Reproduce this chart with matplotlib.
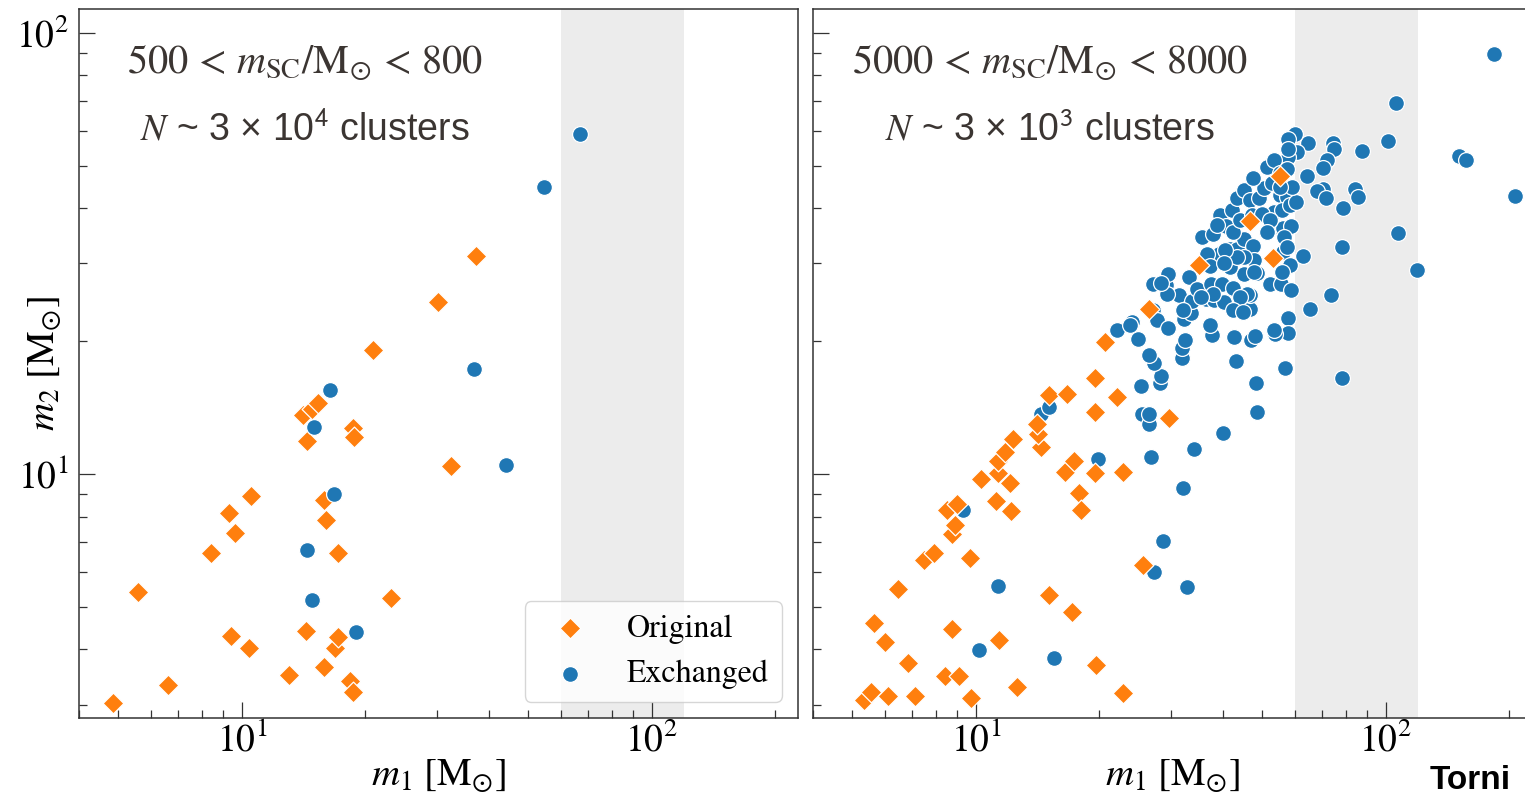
import numpy as np
import matplotlib
matplotlib.use('Agg')
import matplotlib.pyplot as plt
from matplotlib.ticker import NullFormatter, LogLocator

plt.rcParams['font.family'] = ['STIXGeneral', 'DejaVu Serif']
plt.rcParams['mathtext.fontset'] = 'stix'

# left panel : 500 < m_sc < 800
left_orig_m1 = [4.85, 5.58, 6.61, 8.42, 9.31, 9.63, 10.5, 9.42, 10.4, 13.0, 14.3, 14.4, 14.1, 14.8, 15.3,
                15.9, 15.9, 16.0, 17.2, 16.9, 17.2, 18.4, 18.7, 18.7, 18.8, 20.9, 23.1, 30.1, 32.4, 37.3]
left_orig_m2 = [3.02, 5.39, 3.32, 6.60, 8.14, 7.33, 8.90, 4.29, 4.03, 3.50, 4.40, 11.9, 13.6, 14.0, 14.5,
                3.65, 8.72, 7.88, 6.60, 4.03, 4.26, 3.40, 3.20, 12.7, 12.1, 19.1, 5.23, 24.5, 10.4, 31.1]
left_exch_m1 = [16.4, 15.0, 16.8, 14.4, 14.8, 19.0, 36.9, 44.2, 54.7, 66.9]
left_exch_m2 = [15.5, 12.8, 9.0, 6.71, 5.18, 4.39, 17.3, 10.5, 44.6, 59.0]

# right panel : 5000 < m_sc < 8000
right_orig_m1 = [5.35, 5.56, 6.09, 7.12, 8.39, 9.11, 9.72, 12.6, 19.6, 22.8, 5.63, 6.01, 6.84, 8.77, 11.4,
                 15.1, 17.2, 6.45, 7.46, 7.90, 9.67, 8.77, 8.88, 8.49, 9.00, 11.2, 12.2, 10.3, 11.3, 12.1,
                 11.3, 11.8, 12.3, 16.5, 17.9, 18.1, 17.4, 19.5, 22.9, 25.6, 14.4, 14.2, 14.1, 15.1, 16.7,
                 19.5, 22.1, 29.6, 19.5, 20.7, 26.4, 35.1, 46.7, 53.1, 55.1]
right_orig_m2 = [3.07, 3.21, 3.14, 3.14, 3.49, 3.48, 3.11, 3.29, 3.69, 3.18, 4.58, 4.16, 3.73, 4.46, 4.20,
                 5.31, 4.85, 5.47, 6.38, 6.62, 6.43, 7.30, 7.65, 8.28, 8.54, 8.69, 8.23, 9.71, 10.05, 9.54,
                 10.7, 11.2, 12.0, 10.1, 9.03, 8.28, 10.7, 10.05, 10.1, 6.21, 11.5, 12.3, 13.0, 15.1, 15.2,
                 13.8, 14.9, 13.4, 16.5, 19.9, 23.6, 29.8, 37.4, 30.8, 47.3]
right_exch_m1 = [10.2, 11.3, 15.5, 19.9, 9.28, 27.2, 28.6, 32.8, 32.0, 26.8, 34.1, 40.1, 48.5, 25.5, 26.5,
                 25.3, 28.1, 48.2, 14.4, 15.1,
                 106, 101, 87.7, 74.4, 74.7, 71.9, 70.3, 64.3, 64.5, 59.9, 57.6, 60.8, 57.6, 151, 157,
                 207, 84.3, 85.4, 78.5, 70.3, 68.0, 71.6, 107, 78.0, 62.8, 119, 73.6, 65.2, 57.9, 57.9,
                 53.8, 56.7, 78.1, 43.1, 46.9, 48.1, 42.7, 37.7, 37.3, 31.8, 31.8, 32.4, 26.4, 28.3, 27.2,
                 26.4, 24.8, 22.1, 24.0, 27.1, 27.7, 29.4, 27.0, 29.1, 29.5, 31.3, 32.2, 33.5, 33.7, 33.1,
                 34.6, 36.4, 38.2, 40.2, 37.4, 39.8, 42.5, 44.3, 46.7, 46.7, 45.2, 48.5, 52.3, 55.6, 58.8,
                 41.7, 39.1, 36.6, 37.3, 41.6, 43.4, 45.0, 47.4, 47.6, 56.2, 58.3, 55.8, 35.7, 38.0, 39.5,
                 40.8, 42.5, 42.2, 43.4, 45.0, 46.7, 49.0, 50.4, 47.4, 51.3, 53.3, 55.3, 57.4, 53.3, 55.8,
                 58.5, 60.5, 53.5, 56.2, 58.7, 56.6, 57.4, 44.2, 47.2, 49.9, 52.3, 51.3, 38.7, 55.3, 57.4,
                 57.6, 52.8, 59.1, 55.3, 45.0, 43.4, 40.6, 40.4, 47.8, 45.9, 44.2, 38.0, 35.5, 42.5, 44.8,
                 53.3, 32.1, 29.2, 23.8, 28.3, 184]
right_exch_m2 = [3.99, 5.57, 3.82, 10.8, 8.28, 6.00, 7.04, 5.55, 9.27, 10.9, 11.4, 12.4, 13.8, 13.7, 13.0,
                 15.8, 16.1, 16.1, 13.7, 14.2,
                 69.3, 56.7, 53.9, 56.2, 54.6, 51.4, 49.4, 47.3, 56.2, 58.8, 57.3, 53.6, 52.3, 52.5, 51.6,
                 42.6, 44.3, 42.4, 40.1, 44.3, 43.8, 42.2, 35.2, 32.6, 31.2, 29.0, 25.5, 23.6, 22.6, 20.9,
                 20.7, 17.4, 16.5, 18.0, 20.1, 20.5, 20.4, 20.6, 21.8, 18.3, 19.3, 20.1, 13.7, 16.7, 17.8,
                 18.6, 20.2, 21.2, 22.1, 23.5, 22.3, 21.4, 26.9, 26.8, 28.4, 25.4, 22.5, 23.2, 24.7, 27.9,
                 26.2, 24.9, 24.8, 24.5, 27.0, 27.0, 26.4, 23.6, 23.6, 25.5, 28.4, 28.6, 27.0, 27.0, 26.1,
                 29.4, 31.5, 31.5, 29.6, 32.3, 32.4, 34.0, 32.8, 30.6, 31.8, 29.8, 28.7, 34.4, 35.0, 38.6,
                 36.5, 35.3, 39.6, 42.1, 43.9, 41.7, 42.1, 44.5, 46.8, 49.5, 51.6, 42.8, 42.4, 39.2, 39.6,
                 40.6, 41.3, 36.4, 36.1, 36.4, 34.4, 32.7, 37.6, 38.6, 38.9, 37.6, 35.3, 36.6, 48.1, 49.2,
                 54.6, 45.6, 44.7, 44.7, 31.0, 31.0, 32.2, 30.0, 28.7, 25.6, 25.2, 25.6, 25.2, 23.5, 23.3,
                 21.2, 23.5, 25.6, 21.7, 27.1, 89.6]

panel_titles = [r'$500\,<\,m_{\rm SC}/{\rm M}_{\odot}\,<\,800$', r'$5000\,<\,m_{\rm SC}/{\rm M}_{\odot}\,<\,8000$']
panel_counts = [r'$N$ ~ 3 × 10$^{\mathsf{4}}$ clusters', r'$N$ ~ 3 × 10$^{\mathsf{3}}$ clusters']
band_lo, band_hi = 60, 120

orange = '#ff7f0e'
blue = '#1f77b4'
txt_col = '#3b3532'


def style_axis(ax):
    ax.set_xscale('log')
    ax.set_yscale('log')
    ax.set_xlim(4, 227)
    ax.set_ylim(2.8, 113)
    ax.xaxis.set_minor_locator(LogLocator(base=10, subs=np.arange(2, 10)))
    ax.yaxis.set_minor_locator(LogLocator(base=10, subs=np.arange(2, 10)))
    ax.xaxis.set_minor_formatter(NullFormatter())
    ax.yaxis.set_minor_formatter(NullFormatter())
    ax.tick_params(which='both', direction='in', top=False, right=False, color='#333333', width=0.9)
    ax.tick_params(which='major', length=11.5, labelsize=27)
    ax.tick_params(which='minor', length=5.5)
    ax.tick_params(axis='y', pad=7)
    for sp in ax.spines.values():
        sp.set_color('#333333')
        sp.set_linewidth(1.1)
    ax.axvspan(band_lo, band_hi, color='#ececec', zorder=0, lw=0)
    ax.set_xlabel(r'$m_1\ [{\rm M}_{\odot}]$', fontsize=28)
    ax.xaxis.set_label_coords(0.5, -0.055)


fig = plt.figure(figsize=(15.25, 7.98), dpi=100)
ax0 = fig.add_axes([0.0516, 0.1006, 0.4715, 0.8877])
ax1 = fig.add_axes([0.5329, 0.1006, 0.4715, 0.8877], sharey=ax0)

kw = dict(edgecolors='white', linewidths=0.9)

# left
style_axis(ax0)
h_o = ax0.scatter(left_orig_m1, left_orig_m2, marker='D', s=112, c=orange, zorder=3, label='Original', **kw)
h_e = ax0.scatter(left_exch_m1, left_exch_m2, marker='o', s=130, c=blue, zorder=3, label='Exchanged', **kw)
ax0.set_ylabel(r'$m_2\ [{\rm M}_{\odot}]$', fontsize=28)
ax0.yaxis.set_label_coords(-0.022, 0.5)
ax0.legend(handles=[h_o, h_e], loc='lower right', fontsize=23)

# right
style_axis(ax1)
ax1.scatter(right_exch_m1, right_exch_m2, marker='o', s=130, c=blue, zorder=3, **kw)
ax1.scatter(right_orig_m1, right_orig_m2, marker='D', s=112, c=orange, zorder=3, **kw)
ax1.tick_params(axis='y', labelleft=False)

for ax, t1, t2, xc in [(ax0, panel_titles[0], panel_counts[0], 0.315), (ax1, panel_titles[1], panel_counts[1], 0.33)]:
    ax.text(xc, 0.924, t1, transform=ax.transAxes, ha='center', va='center', fontsize=29, color=txt_col)
    ax.text(xc, 0.830, t2, transform=ax.transAxes, ha='center', va='center', fontsize=27, color=txt_col,
            family=['Liberation Sans', 'DejaVu Sans'])

fig.text(0.9377, 0.002, 'Torni', ha='left', va='bottom', fontsize=24, fontweight='bold', color='black',
         family=['Liberation Sans', 'DejaVu Sans'])

plt.savefig('out.png', dpi=100)
plt.close()
